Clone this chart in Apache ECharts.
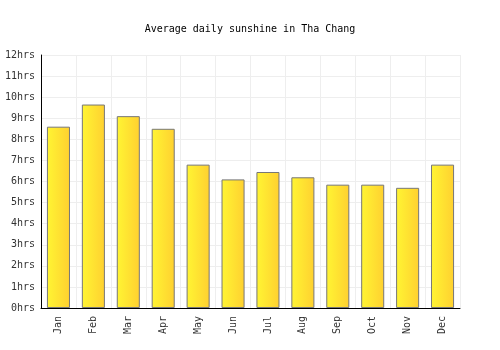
<!DOCTYPE html>
<html>
<head>
<meta charset="utf-8">
<script src="https://cdn.jsdelivr.net/npm/echarts@6/dist/echarts.min.js"></script>
<style>
	html, body { margin: 0; padding: 0; background: #fff; }
	#chart { width: 500px; height: 350px; }
</style>
</head>
<body>
<div id="chart"></div>
<script>
var months = ["Jan", "Feb", "Mar", "Apr", "May", "Jun", "Jul", "Aug", "Sep", "Oct", "Nov", "Dec"];
var sunshine = [8.6, 9.65, 9.1, 8.5, 6.8, 6.1, 6.45, 6.2, 5.85, 5.85, 5.7, 6.8];
var yTicks = [0, 1, 2, 3, 4, 5, 6, 7, 8, 9, 10, 11, 12];

var fontName = "DejaVu Sans Mono";

var mychart = echarts.init(document.getElementById("chart"));
var option = {
	animation: false,
	title: {
		text: "Average daily sunshine in Tha Chang",
		left: "center",
		top: 19,
		textStyle: { fontFamily: fontName, fontSize: 10, fontWeight: "normal", color: "#000" }
	},
	grid: { left: 41, right: 40, top: 55, bottom: 42 },
	xAxis: {
		type: "category",
		data: months,
		axisLine: { lineStyle: { color: "#000" } },
		axisTick: { show: false },
		splitLine: { show: true, lineStyle: { color: "#eee" } },
		axisLabel: { rotate: 90, fontFamily: fontName, fontSize: 10, color: "#333", margin: 8 }
	},
	yAxis: {
		type: "value",
		min: yTicks[0],
		max: yTicks[yTicks.length - 1],
		interval: 1,
		axisLine: { show: true, lineStyle: { color: "#000" } },
		axisTick: { show: false },
		splitLine: { lineStyle: { color: "#eee" } },
		axisLabel: {
			fontFamily: fontName, fontSize: 10, color: "#333", margin: 6,
			formatter: function (v) { return v + "hrs"; }
		}
	},
	series: [{
		type: "bar",
		data: sunshine,
		barWidth: "66%",
		itemStyle: {
			borderColor: "#777",
			borderWidth: 1,
			color: new echarts.graphic.LinearGradient(0, 0, 1, 0, [
				{ offset: 0, color: "#fff533" },
				{ offset: 1, color: "#ffd030" }
			])
		}
	}]
};
mychart.setOption(option);
</script>
</body>
</html>
